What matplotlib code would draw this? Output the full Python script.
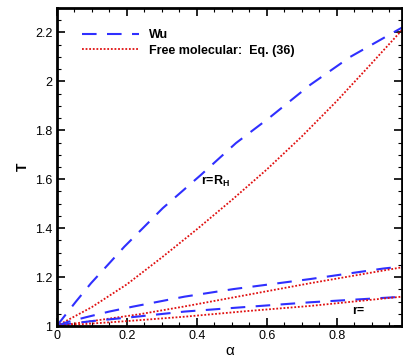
import matplotlib

matplotlib.use("Agg")
import matplotlib.pyplot as plt
from matplotlib.ticker import MultipleLocator

plt.rcParams["font.family"] = ["Liberation Sans", "DejaVu Sans"]

# r = R_H branch
wu_hi_a = [0.0, 0.055, 0.098, 0.146, 0.193, 0.246, 0.303, 0.412, 0.452, 0.512, 0.607, 0.724, 0.838, 0.986]
wu_hi_t = [1.0, 1.10, 1.175, 1.25, 1.324, 1.40, 1.482, 1.618, 1.67, 1.748, 1.851, 1.986, 2.10, 2.22]
fm_hi_a = [0.0, 0.1, 0.2, 0.3, 0.4, 0.5, 0.6, 0.7, 0.8, 0.9, 0.986]
fm_hi_t = [1.0, 1.077, 1.17, 1.28, 1.395, 1.515, 1.64, 1.775, 1.92, 2.075, 2.21]

# middle branch
wu_mid_a = [0.0, 0.03, 0.084, 0.15, 0.217, 0.365, 0.505, 0.724, 0.933, 0.986]
wu_mid_t = [1.0, 1.016, 1.036, 1.059, 1.079, 1.12, 1.151, 1.192, 1.235, 1.243]
fm_mid_a = [0.0, 0.1, 0.236, 0.365, 0.543, 0.724, 0.986]
fm_mid_t = [1.0, 1.02, 1.048, 1.08, 1.127, 1.175, 1.24]

# lower branch
wu_lo_a = [0.0, 0.03, 0.1, 0.227, 0.365, 0.514, 0.724, 0.957, 0.986]
wu_lo_t = [1.0, 1.008, 1.02, 1.038, 1.059, 1.075, 1.097, 1.117, 1.12]
fm_lo_a = [0.0, 0.2, 0.365, 0.543, 0.724, 0.986]
fm_lo_t = [1.0, 1.02, 1.038, 1.061, 1.082, 1.12]

fig = plt.figure(figsize=(4.03, 3.59), dpi=100)
ax = fig.add_axes([0.1407, 0.0919, 0.8568, 0.8858])

dash = dict(color="#2f2fff", linewidth=1.5, dashes=(7, 5))
dot = dict(color="#e01010", linewidth=1.3, linestyle=(0, (1, 1)))

ax.plot(wu_hi_a, wu_hi_t, label="Wu", **dash)
ax.plot(fm_hi_a, fm_hi_t, label="Free molecular:  Eq. (36)", **dot)
ax.plot(wu_mid_a, wu_mid_t, **dash)
ax.plot(fm_mid_a, fm_mid_t, **dot)
ax.plot(wu_lo_a, wu_lo_t, **dash)
ax.plot(fm_lo_a, fm_lo_t, **dot)

ax.text(0.453, 1.59, r"r=R$_\mathregular{H}$", fontsize=9, fontweight="bold",
        ha="center", va="center")
ax.text(0.86, 1.06, "r=", fontsize=9, fontweight="bold", ha="center", va="center")

ax.set_xlim(0, 0.986)
ax.set_ylim(1, 2.3)
ax.xaxis.set_minor_locator(MultipleLocator(0.05))
ax.yaxis.set_minor_locator(MultipleLocator(0.05))
ax.set_xticks([0, 0.2, 0.4, 0.6, 0.8], ["0", "0.2", "0.4", "0.6", "0.8"])
ax.set_yticks([1, 1.2, 1.4, 1.6, 1.8, 2, 2.2], ["1", "1.2", "1.4", "1.6", "1.8", "2", "2.2"])
ax.tick_params(which="both", direction="in", top=True, right=True, labelsize=9, pad=3)
ax.tick_params(which="major", length=6, width=1.2)
ax.tick_params(which="minor", length=3, width=0.8)
for s in ax.spines.values():
    s.set_linewidth(2)

ax.set_xlabel("α", fontsize=11, labelpad=1)
ax.set_ylabel("T", fontsize=10, fontweight="bold", labelpad=4)

leg = ax.legend(loc="upper left", frameon=False, handlelength=4.5, fontsize=9,
                bbox_to_anchor=(0.06, 0.95), borderaxespad=0, labelspacing=0.3)
for t in leg.get_texts():
    t.set_fontweight("bold")

fig.savefig("out.png", dpi=100)
